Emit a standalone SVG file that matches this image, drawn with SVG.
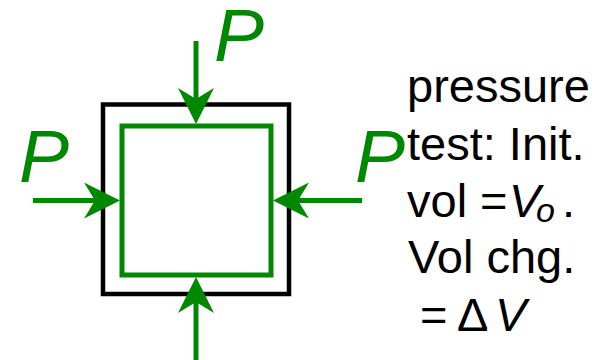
<svg xmlns="http://www.w3.org/2000/svg" width="607" height="360" viewBox="0 0 607 360">
<style>
.g{fill:none;stroke:#008800;stroke-width:5}
.k{fill:none;stroke:#000;stroke-width:4.5}
.p{font-family:"Liberation Sans",Arial,sans-serif;font-style:italic;font-size:75px;fill:#008800}
.t{font-family:"Liberation Sans",Arial,sans-serif;font-size:47px;fill:#000}
.i{font-style:italic}
</style>
<defs>
<marker id="ah" viewBox="0 0 36 36" refX="11" refY="18" markerWidth="36" markerHeight="36" markerUnits="userSpaceOnUse" orient="auto">
<path d="M0,0 L36,18 L0,36 L11,18 Z" fill="#008800"/>
</marker>
</defs>
<g id="outer"><rect class="k" x="103" y="104.5" width="186" height="189.5"/></g>
<g id="inner"><rect class="g" x="122" y="126" width="149" height="149"/></g>
<g id="connectors">
<line class="g" x1="196" y1="41" x2="196" y2="99" marker-end="url(#ah)"/>
<line class="g" x1="33" y1="200.5" x2="95" y2="200.5" marker-end="url(#ah)"/>
<line class="g" x1="362" y1="200.5" x2="298" y2="200.5" marker-end="url(#ah)"/>
<line class="g" x1="196" y1="360" x2="196" y2="302" marker-end="url(#ah)"/>
</g>
<g id="labels">
<text class="p" x="214" y="61">P</text>
<text class="p" x="19" y="182">P</text>
<text class="p" x="355" y="182">P</text>
</g>
<g id="note">
<text class="t" x="407" y="102">pressure</text>
<text class="t" x="407" y="160">test: Init.</text>
<text class="t" x="407" y="217">vol <tspan x="480">=</tspan><tspan class="i" x="509">V</tspan><tspan class="i" x="536" dy="5" font-size="34">o</tspan><tspan x="562" dy="-5">.</tspan></text>
<text class="t" x="408" y="273">Vol chg.</text>
<text class="t" x="420" y="331">=<tspan x="457">Δ</tspan><tspan class="i" x="495">V</tspan></text>
</g>
</svg>
